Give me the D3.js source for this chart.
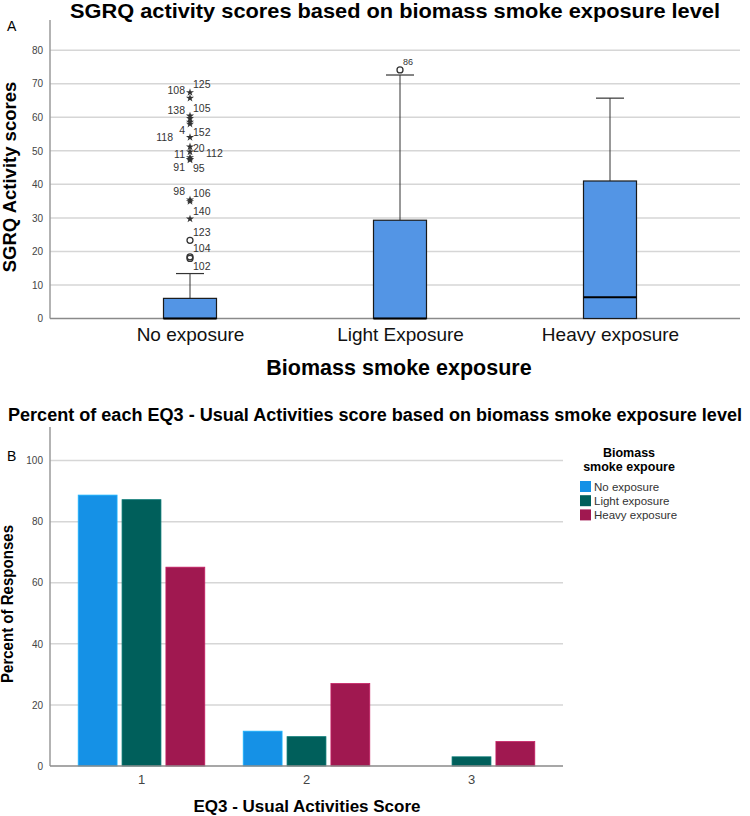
<!DOCTYPE html>
<html>
<head>
<meta charset="utf-8">
<script src="https://cdn.jsdelivr.net/npm/d3@7"></script>
<style>
  body { margin: 0; background: #fff; }
  svg { display: block; font-family: "Liberation Sans", Arial, sans-serif; }
</style>
</head>
<body>
<svg id="chart" width="750" height="816"></svg>
<script>
// ---- panel A data: SGRQ activity boxplots ----
var groupsA = ["No exposure", "Light Exposure", "Heavy exposure"];
var boxQ1 = [0, 0, 0];
var boxMedian = [0, 0, 6.3];
var boxQ3 = [6, 29.3, 41];
var whiskerLow = [0, 0, 0];
var whiskerHigh = [13.4, 72.6, 65.7];
var yTicksA = [0, 10, 20, 30, 40, 50, 60, 70, 80];

// outliers: group, case id, value, marker, label placement
var outliers = [
  { g: 0, id: "125", v: 67.4, m: "star", pos: "ur" },
  { g: 0, id: "108", v: 65.7, m: "star", pos: "ul" },
  { g: 0, id: "105", v: 60.4, m: "star", pos: "ur" },
  { g: 0, id: "138", v: 59.7, m: "star", pos: "ul" },
  { g: 0, id: "4", v: 58.6, m: "star", pos: "dl" },
  { g: 0, id: "152", v: 58.0, m: "star", pos: "dr" },
  { g: 0, id: "118", v: 54.0, m: "star", pos: "l" },
  { g: 0, id: "20", v: 51.2, m: "star", pos: "r" },
  { g: 0, id: "112", v: 49.7, m: "star", pos: "rr" },
  { g: 0, id: "11", v: 48.0, m: "star", pos: "l" },
  { g: 0, id: "91", v: 47.5, m: "star", pos: "dl" },
  { g: 0, id: "95", v: 47.3, m: "star", pos: "dr" },
  { g: 0, id: "98", v: 35.4, m: "star", pos: "ul" },
  { g: 0, id: "106", v: 34.9, m: "star", pos: "ur" },
  { g: 0, id: "140", v: 29.7, m: "star", pos: "ur" },
  { g: 0, id: "123", v: 23.3, m: "circle", pos: "ur" },
  { g: 0, id: "104", v: 18.4, m: "circle", pos: "ur" },
  { g: 0, id: "102", v: 17.9, m: "circle", pos: "dr" },
  { g: 1, id: "86", v: 74.1, m: "circle", pos: "ur" }
];

// ---- panel B data: EQ3 usual activities percentages ----
var scoresB = ["1", "2", "3"];
var seriesB = ["No exposure", "Light exposure", "Heavy exposure"];
var pctNo = [88.7, 11.4, 0];
var pctLight = [87.2, 9.6, 3.0];
var pctHeavy = [65.1, 27.0, 8.0];
var yTicksB = [0, 20, 40, 60, 80, 100];
var seriesColors = ["#1591e6", "#005f5b", "#a01850"];

var svg = d3.select("#chart");
var gridColor = "#d6d6d6";
var axisColor = "#9a9a9a";
var tickColor = "#444";

// ================= Panel A =================
drawPanelA();
function drawPanelA() {
  var left = 50, right = 740, top = 20, bottom = 318.5;
  var y = d3.scaleLinear().domain([0, 89]).range([bottom, top]);
  var x = d3.scalePoint().domain(groupsA).range([190, 610]);

  svg.append("text")
    .attr("x", 395).attr("y", 18)
    .attr("text-anchor", "middle")
    .attr("textLength", 650).attr("lengthAdjust", "spacingAndGlyphs")
    .style("font-size", "21px").style("font-weight", "bold")
    .text("SGRQ activity scores based on biomass smoke exposure level");
  svg.append("text")
    .attr("x", 7).attr("y", 31)
    .style("font-size", "14px")
    .text("A");

  var g = svg.append("g");
  // gridlines
  g.selectAll("line.grid").data(yTicksA.slice(1)).enter().append("line")
    .attr("x1", left).attr("x2", right)
    .attr("y1", function (d) { return y(d); }).attr("y2", function (d) { return y(d); })
    .style("stroke", gridColor).style("stroke-width", 1.5);

  var yAxis = g.append("g")
    .attr("transform", "translate(" + left + ",0)")
    .call(d3.axisLeft(y).tickValues(yTicksA).tickSize(0).tickPadding(7));
  yAxis.select(".domain").remove();
  yAxis.selectAll("text").style("font-size", "10px").style("fill", tickColor)
    .style("font-family", '"Liberation Sans", Arial, sans-serif');

  g.append("line").attr("x1", left).attr("x2", left).attr("y1", top).attr("y2", bottom)
    .style("stroke", axisColor).style("stroke-width", 1.5);
  g.append("line").attr("x1", left).attr("x2", right).attr("y1", bottom).attr("y2", bottom)
    .style("stroke", "#8a8a8a").style("stroke-width", 1.5);

  var xAxis = g.append("g")
    .attr("transform", "translate(0," + bottom + ")")
    .call(d3.axisBottom(x).tickSize(0).tickPadding(9));
  xAxis.select(".domain").remove();
  xAxis.selectAll("text").style("font-size", "19px").style("fill", "#111")
    .style("font-family", '"Liberation Sans", Arial, sans-serif');

  var boxW = 53, capW = 28;
  for (let i = 0; i < groupsA.length; i++) {
    var cx = x(groupsA[i]);
    // whisker
    g.append("line").attr("x1", cx).attr("x2", cx)
      .attr("y1", y(boxQ3[i])).attr("y2", y(whiskerHigh[i]))
      .style("stroke", "#333").style("stroke-width", 1);
    g.append("line").attr("x1", cx - capW / 2).attr("x2", cx + capW / 2)
      .attr("y1", y(whiskerHigh[i])).attr("y2", y(whiskerHigh[i]))
      .style("stroke", "#333").style("stroke-width", 1.2);
    g.append("rect")
      .attr("x", cx - boxW / 2).attr("width", boxW)
      .attr("y", y(boxQ3[i])).attr("height", y(boxQ1[i]) - y(boxQ3[i]))
      .style("fill", "#5395e5").style("stroke", "#1a1a1a").style("stroke-width", 1.2);
    g.append("line").attr("x1", cx - boxW / 2).attr("x2", cx + boxW / 2)
      .attr("y1", y(boxMedian[i])).attr("y2", y(boxMedian[i]))
      .style("stroke", "#000").style("stroke-width", 2);
  }

  var star = d3.symbol().type(d3.symbolStar).size(20);
  outliers.forEach(function (o) {
    var cx = x(groupsA[o.g]), cy = y(o.v);
    if (o.m === "star") {
      g.append("path").attr("d", star)
        .attr("transform", "translate(" + cx + "," + cy + ")")
        .style("fill", "#333");
    } else {
      g.append("circle").attr("cx", cx).attr("cy", cy).attr("r", 3)
        .style("fill", "none").style("stroke", "#333").style("stroke-width", 1.3);
    }
    var dx = 3, dy = 0, anchor = "start";
    if (o.pos.indexOf("l") >= 0) { dx = -5; anchor = "end"; }
    if (o.pos === "l" && o.id === "118") dx = -17;
    if (o.pos === "rr") dx = 16;
    if (o.pos[0] === "u") dy = -8;
    if (o.pos[0] === "d") dy = 8;
    if (o.pos === "r" || o.pos === "rr") dy = 2;
    if (o.pos === "l" && o.id === "11") dy = -3;
    g.append("text")
      .attr("x", cx + dx).attr("y", cy + dy).attr("dy", "0.35em")
      .attr("text-anchor", anchor)
      .style("font-size", o.g === 1 ? "9px" : "10.5px").style("fill", "#333")
      .text(o.id);
  });

  svg.append("text")
    .attr("transform", "translate(16,177) rotate(-90)")
    .attr("text-anchor", "middle")
    .style("font-size", "18.5px").style("font-weight", "bold")
    .text("SGRQ Activity scores");

  svg.append("text")
    .attr("x", 399).attr("y", 375)
    .attr("text-anchor", "middle")
    .style("font-size", "21.5px").style("font-weight", "bold")
    .text("Biomass smoke exposure");
}

// ================= Panel B =================
drawPanelB();
function drawPanelB() {
  var left = 50, right = 563, top = 427, bottom = 766;
  var y = d3.scaleLinear().domain([0, 111]).range([bottom, top]);
  var x0 = d3.scaleBand().domain(scoresB).range([left, right])
    .paddingInner(0.233).paddingOuter(0.171);
  var x1 = d3.scaleBand().domain(seriesB).range([0, x0.bandwidth()])
    .paddingInner(0.114);
  var color = d3.scaleOrdinal().domain(seriesB).range(seriesColors);

  var rows = scoresB.map(function (s, i) {
    return { score: s, vals: [pctNo[i], pctLight[i], pctHeavy[i]] };
  });

  svg.append("text")
    .attr("x", 375).attr("y", 421)
    .attr("text-anchor", "middle")
    .attr("textLength", 734).attr("lengthAdjust", "spacingAndGlyphs")
    .style("font-size", "18px").style("font-weight", "bold")
    .text("Percent of each EQ3 - Usual Activities score based on biomass smoke exposure level");
  svg.append("text")
    .attr("x", 7).attr("y", 461)
    .style("font-size", "14px")
    .text("B");

  var g = svg.append("g");
  g.selectAll("line.grid").data(yTicksB.slice(1)).enter().append("line")
    .attr("x1", left).attr("x2", right)
    .attr("y1", function (d) { return y(d); }).attr("y2", function (d) { return y(d); })
    .style("stroke", gridColor).style("stroke-width", 1.5);

  var yAxis = g.append("g")
    .attr("transform", "translate(" + left + ",0)")
    .call(d3.axisLeft(y).tickValues(yTicksB).tickSize(0).tickPadding(7));
  yAxis.select(".domain").remove();
  yAxis.selectAll("text").style("font-size", "10px").style("fill", tickColor)
    .style("font-family", '"Liberation Sans", Arial, sans-serif');

  var groups = g.selectAll("g.grp").data(rows).enter().append("g")
    .attr("transform", function (d) { return "translate(" + x0(d.score) + ",0)"; });
  groups.selectAll("rect").data(function (d) {
    return d.vals.map(function (v, k) { return { s: seriesB[k], v: v }; });
  }).enter().append("rect")
    .filter(function (d) { return d.v > 0; })
    .attr("x", function (d) { return x1(d.s); })
    .attr("width", x1.bandwidth())
    .attr("y", function (d) { return y(d.v); })
    .attr("height", function (d) { return bottom - y(d.v); })
    .style("fill", function (d) { return color(d.s); })
    .style("stroke", function (d) { return d3.color(color(d.s)).brighter(0.6); })
    .style("stroke-width", 0.8);

  g.append("line").attr("x1", left).attr("x2", left).attr("y1", top).attr("y2", bottom)
    .style("stroke", axisColor).style("stroke-width", 1.5);
  g.append("line").attr("x1", left).attr("x2", right).attr("y1", bottom).attr("y2", bottom)
    .style("stroke", "#8a8a8a").style("stroke-width", 1.5);

  var xAxis = g.append("g")
    .attr("transform", "translate(0," + bottom + ")")
    .call(d3.axisBottom(x0).tickSize(0).tickPadding(9));
  xAxis.select(".domain").remove();
  xAxis.selectAll("text").style("font-size", "13px").style("fill", "#444")
    .style("font-family", '"Liberation Sans", Arial, sans-serif');

  svg.append("text")
    .attr("transform", "translate(13,604) rotate(-90)")
    .attr("text-anchor", "middle")
    .attr("textLength", 158).attr("lengthAdjust", "spacingAndGlyphs")
    .style("font-size", "16px").style("font-weight", "bold")
    .text("Percent of Responses");

  svg.append("text")
    .attr("x", 307).attr("y", 812)
    .attr("text-anchor", "middle")
    .style("font-size", "17px").style("font-weight", "bold")
    .text("EQ3 - Usual Activities Score");

  // legend
  var lg = svg.append("g");
  lg.append("text").attr("x", 629).attr("y", 457).attr("text-anchor", "middle")
    .style("font-size", "12.5px").style("font-weight", "bold").text("Biomass");
  lg.append("text").attr("x", 629).attr("y", 471).attr("text-anchor", "middle")
    .style("font-size", "12.5px").style("font-weight", "bold").text("smoke expoure");
  var items = lg.selectAll("g.item").data(seriesB).enter().append("g")
    .attr("transform", function (d, i) { return "translate(580," + (481 + i * 14.2) + ")"; });
  items.append("rect").attr("width", 11).attr("height", 11)
    .style("fill", function (d) { return color(d); });
  items.append("text").attr("x", 14).attr("y", 5.5).attr("dy", "0.35em")
    .style("font-size", "11.5px").style("fill", "#333")
    .text(function (d) { return d; });
}
</script>
</body>
</html>
